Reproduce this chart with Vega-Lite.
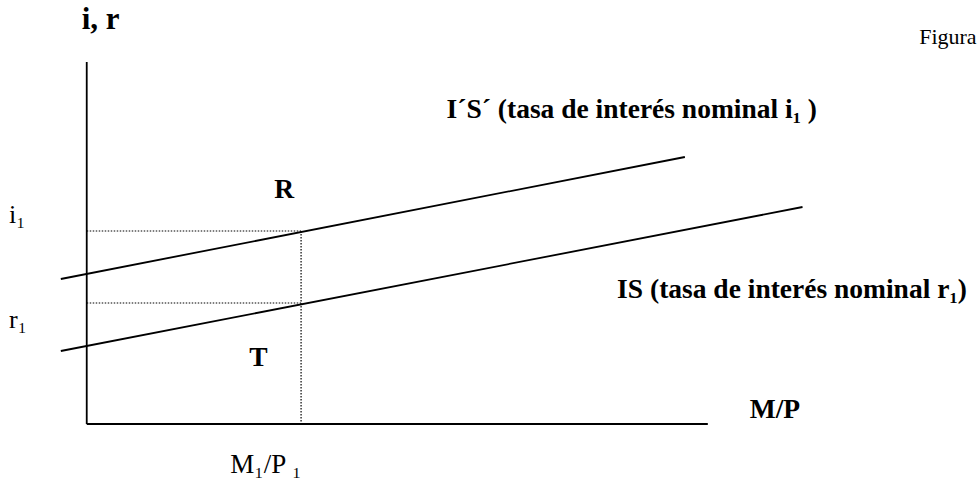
{
  "$schema": "https://vega.github.io/schema/vega-lite/v6.json",
  "width": 977,
  "height": 490,
  "autosize": {"type": "fit", "contains": "padding"},
  "padding": 0,
  "background": "white",
  "config": {"view": {"stroke": null}, "text": {"font": "Liberation Serif", "color": "black"}},
  "datasets": {
    "solid": [
      {"seg": "eje vertical", "x": 87, "y": 62, "x2": 87, "y2": 424},
      {"seg": "eje horizontal", "x": 87, "y": 424, "x2": 710, "y2": 424},
      {"seg": "I'S'", "x": 61, "y": 279, "x2": 687, "y2": 157},
      {"seg": "IS", "x": 61, "y": 351, "x2": 805, "y2": 207}
    ],
    "dotted": [
      {"seg": "i1", "x": 87, "y": 231, "x2": 302, "y2": 231},
      {"seg": "r1", "x": 87, "y": 303, "x2": 302, "y2": 303},
      {"seg": "M1/P1", "x": 302, "y": 231, "x2": 302, "y2": 424}
    ],
    "boldLabels": [
      {"label": "I´S´ (tasa de interés nominal i₁ )", "x": 448, "y": 110},
      {"label": "R", "x": 275, "y": 190},
      {"label": "IS (tasa de interés nominal r₁)", "x": 619, "y": 290},
      {"label": "T", "x": 250, "y": 358},
      {"label": "M/P", "x": 752, "y": 410}
    ],
    "regularLabels": [
      {"label": "i₁", "x": 9, "y": 215},
      {"label": "r₁", "x": 9, "y": 320}
    ],
    "bottomLabel": [
      {"label": "M₁/P ₁", "x": 231, "y": 465}
    ],
    "small": [
      {"label": "Figura", "x": 922, "y": 37}
    ],
    "title": [
      {"label": "i, r", "x": 82, "y": 20}
    ]
  },
  "layer": [
    {
      "data": {"name": "solid"},
      "mark": {"type": "rule", "color": "black", "strokeWidth": 1.8},
      "encoding": {
        "x": {"field": "x", "type": "quantitative", "scale": {"domain": [0, 977], "nice": false, "zero": false}, "axis": null},
        "y": {"field": "y", "type": "quantitative", "scale": {"domain": [490, 0], "nice": false, "zero": false}, "axis": null},
        "x2": {"field": "x2"},
        "y2": {"field": "y2"}
      }
    },
    {
      "data": {"name": "dotted"},
      "mark": {"type": "rule", "color": "black", "strokeWidth": 1.2, "strokeDash": [1.5, 1.5]},
      "encoding": {
        "x": {"field": "x", "type": "quantitative"},
        "y": {"field": "y", "type": "quantitative"},
        "x2": {"field": "x2"},
        "y2": {"field": "y2"}
      }
    },
    {
      "data": {"name": "boldLabels"},
      "mark": {"type": "text", "fontWeight": "bold", "fontSize": 27.5, "align": "left", "baseline": "middle"},
      "encoding": {
        "x": {"field": "x", "type": "quantitative"},
        "y": {"field": "y", "type": "quantitative"},
        "text": {"field": "label"}
      }
    },
    {
      "data": {"name": "regularLabels"},
      "mark": {"type": "text", "fontSize": 26, "align": "left", "baseline": "middle"},
      "encoding": {
        "x": {"field": "x", "type": "quantitative"},
        "y": {"field": "y", "type": "quantitative"},
        "text": {"field": "label"}
      }
    },
    {
      "data": {"name": "bottomLabel"},
      "mark": {"type": "text", "fontSize": 27, "align": "left", "baseline": "middle"},
      "encoding": {
        "x": {"field": "x", "type": "quantitative"},
        "y": {"field": "y", "type": "quantitative"},
        "text": {"field": "label"}
      }
    },
    {
      "data": {"name": "small"},
      "mark": {"type": "text", "fontSize": 22, "align": "left", "baseline": "middle"},
      "encoding": {
        "x": {"field": "x", "type": "quantitative"},
        "y": {"field": "y", "type": "quantitative"},
        "text": {"field": "label"}
      }
    },
    {
      "data": {"name": "title"},
      "mark": {"type": "text", "fontWeight": "bold", "fontSize": 31, "align": "left", "baseline": "middle"},
      "encoding": {
        "x": {"field": "x", "type": "quantitative"},
        "y": {"field": "y", "type": "quantitative"},
        "text": {"field": "label"}
      }
    }
  ]
}
